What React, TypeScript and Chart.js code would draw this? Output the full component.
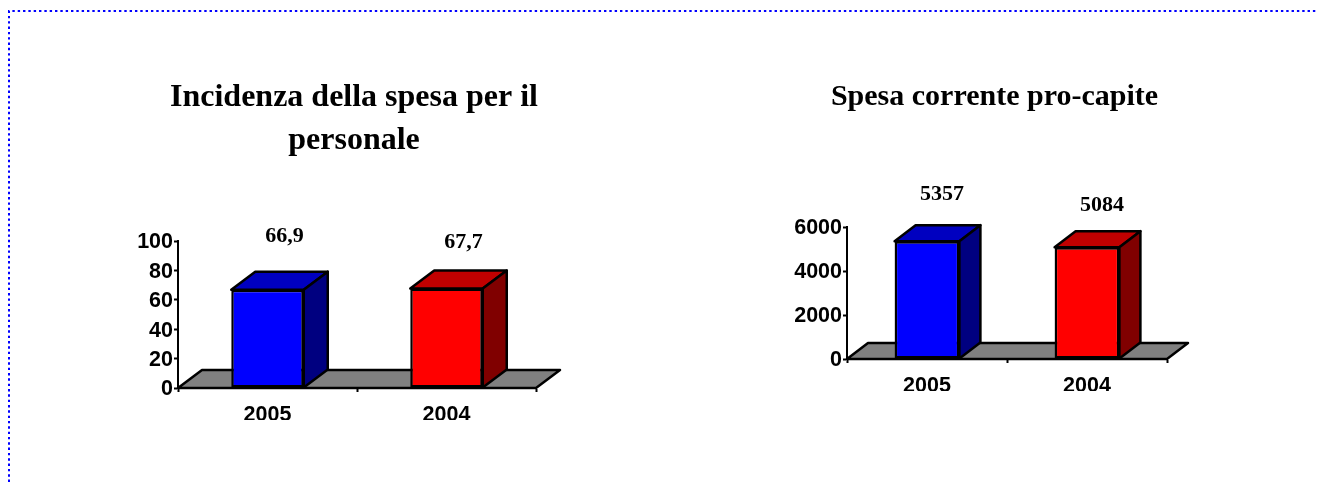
import React, { useEffect, useRef } from "react";
import { Chart, registerables } from "chart.js";

Chart.register(...registerables);

const categories = ["2005", "2004"];
const staffValues = [66.9, 67.7];
const spendValues = [5357, 5084];
const frontColors = ["#0000ff", "#ff0000"];
const topColors = ["#0000c0", "#c00000"];
const sideColors = ["#000080", "#800000"];

const SERIF = "'Liberation Serif', serif";
const SANS = "'Liberation Sans', sans-serif";
const LINE = 2.5;

const bar3d = {
  id: "bar3d",
  afterLayout(chart: any) {
    // centre the title over the whole canvas rather than over the padded box
    if (chart.titleBlock) {
      chart.titleBlock.left = 0;
      chart.titleBlock.right = chart.width;
    }
  },
  beforeDatasetsDraw(chart: any, _a: any, o: any) {
    const { ctx, chartArea: ca } = chart;
    const { dx, dy } = o;
    ctx.save();
    ctx.lineWidth = LINE;
    ctx.strokeStyle = "#000";
    ctx.lineJoin = "round";
    const poly = (pts: number[][], fill: string) => {
      ctx.beginPath();
      pts.forEach(([x, y], i) => (i ? ctx.lineTo(x, y) : ctx.moveTo(x, y)));
      ctx.closePath();
      ctx.fillStyle = fill;
      ctx.fill();
      ctx.stroke();
    };
    poly(
      [
        [ca.left, ca.bottom],
        [ca.left + dx, ca.bottom - dy],
        [ca.right + dx, ca.bottom - dy],
        [ca.right, ca.bottom],
      ],
      "#808080"
    );
    chart.getDatasetMeta(0).data.forEach((el: any, i: number) => {
      const p = el.getProps(["x", "y", "base", "width"], true);
      const l = p.x - p.width / 2;
      const r = p.x + p.width / 2;
      poly(
        [
          [l, p.y],
          [l + dx, p.y - dy],
          [r + dx, p.y - dy],
          [r, p.y],
        ],
        topColors[i]
      );
      poly(
        [
          [r, p.y],
          [r + dx, p.y - dy],
          [r + dx, p.base - dy],
          [r, p.base],
        ],
        sideColors[i]
      );
    });
    ctx.restore();
  },
  afterDatasetsDraw(chart: any, _a: any, o: any) {
    const { ctx } = chart;
    ctx.save();
    ctx.font = `bold ${o.labelSize}px ${SERIF}`;
    ctx.fillStyle = "#000";
    ctx.textAlign = "center";
    ctx.textBaseline = "middle";
    const values = chart.data.datasets[0].data;
    chart.getDatasetMeta(0).data.forEach((el: any, i: number) => {
      const text = String(values[i]).replace(".", ",");
      ctx.fillText(text, el.x + o.labelDx, el.y - o.labelLift[i]);
    });
    ctx.restore();
  },
};

type Spec = {
  left: number;
  top: number;
  width: number;
  height: number;
  values: number[];
  max: number;
  step: number;
  title: string[];
  titleSize: number;
  titleLine: number;
  padding: { left: number; right: number; top: number; bottom: number };
  titleGap: number;
  dx: number;
  dy: number;
  labelDx: number;
  labelLift: number[];
};

const staffLabelLift = [53, 46];
const spendLabelLift = [47, 42];

const specs: Spec[] = [
  {
    left: 60,
    top: 60,
    width: 588,
    height: 370,
    values: staffValues,
    max: 100,
    step: 20,
    title: ["Incidenza della spesa per il", "personale"],
    titleSize: 32,
    titleLine: 43,
    padding: { left: 58, right: 112, top: 16, bottom: 10 },
    titleGap: 79,
    dx: 24,
    dy: 18,
    labelDx: 17,
    labelLift: staffLabelLift,
  },
  {
    left: 720,
    top: 60,
    width: 549,
    height: 370,
    values: spendValues,
    max: 6000,
    step: 2000,
    title: ["Spesa corrente pro-capite"],
    titleSize: 30,
    titleLine: 30,
    padding: { left: 67, right: 102, top: 22, bottom: 39 },
    titleGap: 115,
    dx: 21,
    dy: 16,
    labelDx: 15,
    labelLift: spendLabelLift,
  },
];

function Panel({ spec }: { spec: Spec }) {
  const ref = useRef<HTMLCanvasElement>(null);
  useEffect(() => {
    const chart = new Chart(ref.current!, {
      type: "bar",
      data: {
        labels: categories,
        datasets: [
          {
            data: spec.values,
            backgroundColor: frontColors,
            borderColor: "#000",
            borderWidth: LINE,
            borderSkipped: false,
            categoryPercentage: 1,
            barPercentage: 0.405,
          },
        ],
      },
      plugins: [bar3d],
      options: {
        animation: false,
        responsive: false,
        layout: { padding: spec.padding },
        scales: {
          x: {
            border: { color: "#000", width: 2 },
            grid: { drawOnChartArea: false, tickColor: "#000", tickLength: 4, tickWidth: 2 },
            ticks: { color: "#000", font: { family: SANS, weight: "bold", size: 21.5 }, padding: 10, maxRotation: 0 },
            afterFit: (s: any) => {
              s.height = 32;
            },
          },
          y: {
            min: 0,
            max: spec.max,
            border: { color: "#000", width: 2 },
            grid: { drawOnChartArea: false, tickColor: "#000", tickLength: 4, tickWidth: 2 },
            ticks: {
              color: "#000",
              stepSize: spec.step,
              font: { family: SANS, weight: "bold", size: 21.5 },
              padding: 1,
              labelOffset: 1.5,
              callback: (v: any) => String(v),
            },
            afterFit: (s: any) => {
              s.width = 60;
            },
          },
        },
        plugins: {
          legend: { display: false },
          tooltip: { enabled: false },
          title: {
            display: true,
            text: spec.title,
            color: "#000",
            font: { family: SERIF, weight: "bold", size: spec.titleSize, lineHeight: `${spec.titleLine}px` },
            padding: { top: 0, bottom: spec.titleGap },
          },
          bar3d: {
            dx: spec.dx,
            dy: spec.dy,
            labelDx: spec.labelDx,
            labelLift: spec.labelLift,
            labelSize: 22,
          },
        } as any,
      },
    } as any);
    return () => chart.destroy();
  }, [spec]);
  return (
    <canvas
      ref={ref}
      width={spec.width}
      height={spec.height}
      style={{ position: "absolute", left: spec.left, top: spec.top, width: spec.width, height: spec.height }}
    />
  );
}

export default function App() {
  return (
    <div>
      <svg
        width={1318}
        height={485}
        style={{ position: "absolute", left: 0, top: 0, display: "block" }}
      >
        <polyline
          points="9,482 9,11 1318,11"
          fill="none"
          stroke="#0000ff"
          strokeWidth={2}
          strokeDasharray="2.4 2.93"
        />
      </svg>
      {specs.map((s) => (
        <Panel key={s.title[0]} spec={s} />
      ))}
    </div>
  );
}
